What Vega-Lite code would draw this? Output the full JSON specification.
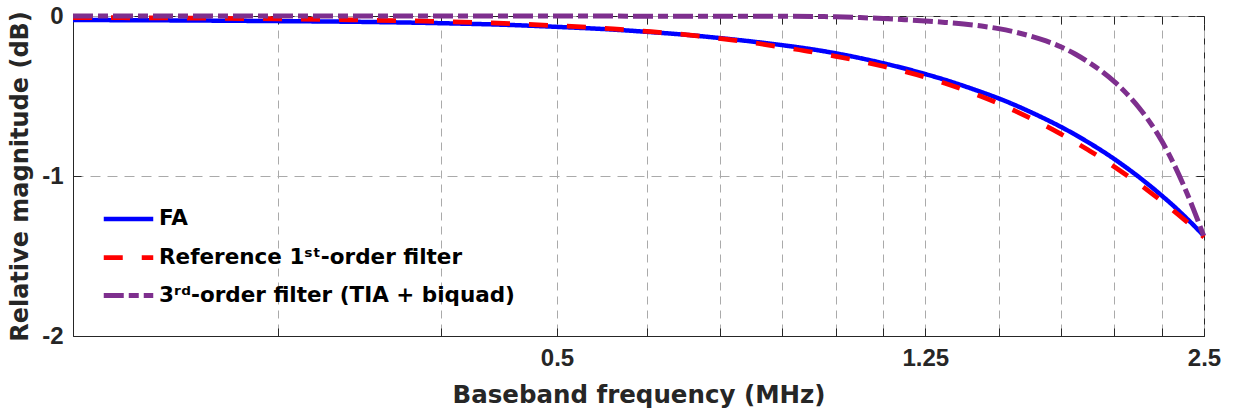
{
  "$schema": "https://vega.github.io/schema/vega-lite/v6.json",
  "width": 1131,
  "height": 320,
  "autosize": {"type": "none"},
  "padding": {"left": 73, "top": 16, "right": 32, "bottom": 77},
  "background": "white",
  "config": {
    "view": {"stroke": "#262626", "strokeWidth": 1},
    "axis": {"domainColor": "#262626", "tickColor": "#262626", "labelColor": "#262626", "titleColor": "#262626"}
  },
  "data": {
    "values": [
      {"f": 0.15, "db": -0.025, "filter": "FA"},
      {"f": 0.2, "db": -0.028, "filter": "FA"},
      {"f": 0.25, "db": -0.032, "filter": "FA"},
      {"f": 0.3, "db": -0.036, "filter": "FA"},
      {"f": 0.375, "db": -0.045, "filter": "FA"},
      {"f": 0.45, "db": -0.057, "filter": "FA"},
      {"f": 0.5, "db": -0.068, "filter": "FA"},
      {"f": 0.575, "db": -0.085, "filter": "FA"},
      {"f": 0.625, "db": -0.099, "filter": "FA"},
      {"f": 0.7, "db": -0.121, "filter": "FA"},
      {"f": 0.75, "db": -0.138, "filter": "FA"},
      {"f": 0.825, "db": -0.164, "filter": "FA"},
      {"f": 0.875, "db": -0.182, "filter": "FA"},
      {"f": 0.95, "db": -0.211, "filter": "FA"},
      {"f": 1.0, "db": -0.233, "filter": "FA"},
      {"f": 1.0625, "db": -0.263, "filter": "FA"},
      {"f": 1.125, "db": -0.295, "filter": "FA"},
      {"f": 1.1875, "db": -0.328, "filter": "FA"},
      {"f": 1.25, "db": -0.363, "filter": "FA"},
      {"f": 1.3125, "db": -0.399, "filter": "FA"},
      {"f": 1.375, "db": -0.437, "filter": "FA"},
      {"f": 1.4375, "db": -0.476, "filter": "FA"},
      {"f": 1.5, "db": -0.515, "filter": "FA"},
      {"f": 1.5625, "db": -0.557, "filter": "FA"},
      {"f": 1.625, "db": -0.601, "filter": "FA"},
      {"f": 1.6875, "db": -0.646, "filter": "FA"},
      {"f": 1.75, "db": -0.692, "filter": "FA"},
      {"f": 1.8125, "db": -0.740, "filter": "FA"},
      {"f": 1.875, "db": -0.790, "filter": "FA"},
      {"f": 1.9375, "db": -0.841, "filter": "FA"},
      {"f": 2.0, "db": -0.894, "filter": "FA"},
      {"f": 2.0625, "db": -0.949, "filter": "FA"},
      {"f": 2.125, "db": -1.005, "filter": "FA"},
      {"f": 2.1875, "db": -1.063, "filter": "FA"},
      {"f": 2.25, "db": -1.122, "filter": "FA"},
      {"f": 2.3125, "db": -1.182, "filter": "FA"},
      {"f": 2.375, "db": -1.245, "filter": "FA"},
      {"f": 2.4375, "db": -1.309, "filter": "FA"},
      {"f": 2.5, "db": -1.375, "filter": "FA"},
      {"f": 0.15, "db": -0.01, "filter": "Reference 1ˢᵗ-order filter"},
      {"f": 0.2, "db": -0.013, "filter": "Reference 1ˢᵗ-order filter"},
      {"f": 0.25, "db": -0.018, "filter": "Reference 1ˢᵗ-order filter"},
      {"f": 0.3, "db": -0.024, "filter": "Reference 1ˢᵗ-order filter"},
      {"f": 0.375, "db": -0.035, "filter": "Reference 1ˢᵗ-order filter"},
      {"f": 0.45, "db": -0.049, "filter": "Reference 1ˢᵗ-order filter"},
      {"f": 0.5, "db": -0.061, "filter": "Reference 1ˢᵗ-order filter"},
      {"f": 0.575, "db": -0.08, "filter": "Reference 1ˢᵗ-order filter"},
      {"f": 0.625, "db": -0.096, "filter": "Reference 1ˢᵗ-order filter"},
      {"f": 0.7, "db": -0.121, "filter": "Reference 1ˢᵗ-order filter"},
      {"f": 0.75, "db": -0.141, "filter": "Reference 1ˢᵗ-order filter"},
      {"f": 0.825, "db": -0.172, "filter": "Reference 1ˢᵗ-order filter"},
      {"f": 0.875, "db": -0.195, "filter": "Reference 1ˢᵗ-order filter"},
      {"f": 0.95, "db": -0.228, "filter": "Reference 1ˢᵗ-order filter"},
      {"f": 1.0, "db": -0.252, "filter": "Reference 1ˢᵗ-order filter"},
      {"f": 1.0625, "db": -0.282, "filter": "Reference 1ˢᵗ-order filter"},
      {"f": 1.125, "db": -0.314, "filter": "Reference 1ˢᵗ-order filter"},
      {"f": 1.1875, "db": -0.347, "filter": "Reference 1ˢᵗ-order filter"},
      {"f": 1.25, "db": -0.382, "filter": "Reference 1ˢᵗ-order filter"},
      {"f": 1.3125, "db": -0.420, "filter": "Reference 1ˢᵗ-order filter"},
      {"f": 1.375, "db": -0.461, "filter": "Reference 1ˢᵗ-order filter"},
      {"f": 1.4375, "db": -0.503, "filter": "Reference 1ˢᵗ-order filter"},
      {"f": 1.5, "db": -0.547, "filter": "Reference 1ˢᵗ-order filter"},
      {"f": 1.5625, "db": -0.593, "filter": "Reference 1ˢᵗ-order filter"},
      {"f": 1.625, "db": -0.640, "filter": "Reference 1ˢᵗ-order filter"},
      {"f": 1.6875, "db": -0.688, "filter": "Reference 1ˢᵗ-order filter"},
      {"f": 1.75, "db": -0.737, "filter": "Reference 1ˢᵗ-order filter"},
      {"f": 1.8125, "db": -0.787, "filter": "Reference 1ˢᵗ-order filter"},
      {"f": 1.875, "db": -0.838, "filter": "Reference 1ˢᵗ-order filter"},
      {"f": 1.9375, "db": -0.889, "filter": "Reference 1ˢᵗ-order filter"},
      {"f": 2.0, "db": -0.942, "filter": "Reference 1ˢᵗ-order filter"},
      {"f": 2.0625, "db": -0.995, "filter": "Reference 1ˢᵗ-order filter"},
      {"f": 2.125, "db": -1.048, "filter": "Reference 1ˢᵗ-order filter"},
      {"f": 2.1875, "db": -1.102, "filter": "Reference 1ˢᵗ-order filter"},
      {"f": 2.25, "db": -1.157, "filter": "Reference 1ˢᵗ-order filter"},
      {"f": 2.3125, "db": -1.212, "filter": "Reference 1ˢᵗ-order filter"},
      {"f": 2.375, "db": -1.268, "filter": "Reference 1ˢᵗ-order filter"},
      {"f": 2.4375, "db": -1.325, "filter": "Reference 1ˢᵗ-order filter"},
      {"f": 2.5, "db": -1.382, "filter": "Reference 1ˢᵗ-order filter"},
      {"f": 0.15, "db": 0.0, "filter": "3ʳᵈ-order filter (TIA + biquad)"},
      {"f": 0.25, "db": 0.0, "filter": "3ʳᵈ-order filter (TIA + biquad)"},
      {"f": 0.375, "db": 0.0, "filter": "3ʳᵈ-order filter (TIA + biquad)"},
      {"f": 0.5, "db": 0.0, "filter": "3ʳᵈ-order filter (TIA + biquad)"},
      {"f": 0.625, "db": -0.001, "filter": "3ʳᵈ-order filter (TIA + biquad)"},
      {"f": 0.75, "db": -0.001, "filter": "3ʳᵈ-order filter (TIA + biquad)"},
      {"f": 0.875, "db": -0.002, "filter": "3ʳᵈ-order filter (TIA + biquad)"},
      {"f": 0.95, "db": -0.003, "filter": "3ʳᵈ-order filter (TIA + biquad)"},
      {"f": 1.0, "db": -0.005, "filter": "3ʳᵈ-order filter (TIA + biquad)"},
      {"f": 1.0625, "db": -0.01, "filter": "3ʳᵈ-order filter (TIA + biquad)"},
      {"f": 1.125, "db": -0.016, "filter": "3ʳᵈ-order filter (TIA + biquad)"},
      {"f": 1.1875, "db": -0.023, "filter": "3ʳᵈ-order filter (TIA + biquad)"},
      {"f": 1.25, "db": -0.031, "filter": "3ʳᵈ-order filter (TIA + biquad)"},
      {"f": 1.3125, "db": -0.04, "filter": "3ʳᵈ-order filter (TIA + biquad)"},
      {"f": 1.375, "db": -0.05, "filter": "3ʳᵈ-order filter (TIA + biquad)"},
      {"f": 1.4375, "db": -0.063, "filter": "3ʳᵈ-order filter (TIA + biquad)"},
      {"f": 1.5, "db": -0.079, "filter": "3ʳᵈ-order filter (TIA + biquad)"},
      {"f": 1.5625, "db": -0.1, "filter": "3ʳᵈ-order filter (TIA + biquad)"},
      {"f": 1.625, "db": -0.126, "filter": "3ʳᵈ-order filter (TIA + biquad)"},
      {"f": 1.6875, "db": -0.156, "filter": "3ʳᵈ-order filter (TIA + biquad)"},
      {"f": 1.75, "db": -0.192, "filter": "3ʳᵈ-order filter (TIA + biquad)"},
      {"f": 1.8125, "db": -0.236, "filter": "3ʳᵈ-order filter (TIA + biquad)"},
      {"f": 1.875, "db": -0.288, "filter": "3ʳᵈ-order filter (TIA + biquad)"},
      {"f": 1.9375, "db": -0.345, "filter": "3ʳᵈ-order filter (TIA + biquad)"},
      {"f": 2.0, "db": -0.41, "filter": "3ʳᵈ-order filter (TIA + biquad)"},
      {"f": 2.0625, "db": -0.485, "filter": "3ʳᵈ-order filter (TIA + biquad)"},
      {"f": 2.125, "db": -0.57, "filter": "3ʳᵈ-order filter (TIA + biquad)"},
      {"f": 2.1875, "db": -0.668, "filter": "3ʳᵈ-order filter (TIA + biquad)"},
      {"f": 2.25, "db": -0.78, "filter": "3ʳᵈ-order filter (TIA + biquad)"},
      {"f": 2.3125, "db": -0.91, "filter": "3ʳᵈ-order filter (TIA + biquad)"},
      {"f": 2.375, "db": -1.055, "filter": "3ʳᵈ-order filter (TIA + biquad)"},
      {"f": 2.4375, "db": -1.213, "filter": "3ʳᵈ-order filter (TIA + biquad)"},
      {"f": 2.5, "db": -1.38, "filter": "3ʳᵈ-order filter (TIA + biquad)"}
    ]
  },
  "resolve": {"axis": {"x": "independent", "y": "independent"}},
  "layer": [
    {
      "mark": {"type": "line", "interpolate": "monotone", "clip": false},
      "encoding": {
        "x": {
          "field": "f", "type": "quantitative",
          "scale": {"type": "log", "domain": [0.15, 2.5], "nice": false},
          "axis": {
            "orient": "bottom",
            "values": [0.25, 0.375, 0.5, 0.625, 0.75, 0.875, 1, 1.125, 1.25, 1.5, 1.75, 2, 2.25, 2.5],
            "grid": true, "gridDash": [8, 6], "gridColor": "#aaaaaa", "gridWidth": 1,
            "ticks": true, "tickSize": -8,
            "labelExpr": "datum.value == 0.5 ? '0.5' : datum.value == 1.25 ? '1.25' : datum.value == 2.5 ? '2.5' : ''",
            "labelOverlap": false, "labelFlush": false,
            "labelFont": "Liberation Sans", "labelFontWeight": "bold", "labelFontSize": 24, "labelPadding": 18,
            "title": "Baseband frequency (MHz)",
            "titleFont": "DejaVu Sans", "titleFontWeight": "bold", "titleFontSize": 24.5, "titlePadding": 13
          }
        },
        "y": {
          "field": "db", "type": "quantitative",
          "scale": {"domain": [-2, 0], "nice": false, "zero": false},
          "axis": {
            "orient": "left",
            "values": [-2, -1, 0],
            "grid": true, "gridDash": [10, 7], "gridColor": "#aaaaaa", "gridWidth": 1,
            "ticks": true, "tickSize": -8,
            "labelExpr": "datum.value == 0 ? '0' : datum.value == -1 ? '-1' : '-2'",
            "labelFont": "Liberation Sans", "labelFontWeight": "bold", "labelFontSize": 24, "labelPadding": 18,
            "title": "Relative magnitude (dB)",
            "titleFont": "DejaVu Sans", "titleFontWeight": "bold", "titleFontSize": 24,
            "titleX": -53, "titleY": 160, "titleBaseline": "middle"
          }
        },
        "color": {
          "field": "filter", "type": "nominal",
          "scale": {
            "domain": ["FA", "Reference 1ˢᵗ-order filter", "3ʳᵈ-order filter (TIA + biquad)"],
            "range": ["#0000ff", "#ff0000", "#7e2f8e"]
          },
          "legend": {
            "orient": "none", "legendX": 28, "legendY": 176,
            "title": null, "symbolType": "stroke", "symbolSize": 2450, "symbolStrokeWidth": 4.5,
            "labelFont": "DejaVu Sans", "labelFontWeight": "bold", "labelFontSize": 21.5, "labelColor": "#000000",
            "labelLimit": 0, "rowPadding": -3, "padding": 0, "labelOffset": 3
          }
        },
        "strokeDash": {
          "field": "filter", "type": "nominal",
          "scale": {
            "domain": ["FA", "Reference 1ˢᵗ-order filter", "3ʳᵈ-order filter (TIA + biquad)"],
            "range": [[1, 0], [19, 19], [20, 5, 10, 5]]
          },
          "legend": null
        },
        "strokeWidth": {
          "field": "filter", "type": "nominal",
          "scale": {
            "domain": ["FA", "Reference 1ˢᵗ-order filter", "3ʳᵈ-order filter (TIA + biquad)"],
            "range": [4.5, 5, 5]
          },
          "legend": null
        }
      }
    },
    {
      "mark": {"type": "point", "opacity": 0},
      "encoding": {
        "x": {
          "field": "f", "type": "quantitative",
          "scale": {"type": "log", "domain": [0.15, 2.5], "nice": false},
          "axis": {
            "orient": "top", "values": [0.25, 0.375, 0.5, 0.625, 0.75, 0.875, 1, 1.125, 1.25, 1.5, 1.75, 2, 2.25, 2.5],
            "labels": false, "grid": false, "domain": false, "ticks": true, "tickSize": -8, "title": null
          }
        },
        "y": {
          "field": "db", "type": "quantitative",
          "scale": {"domain": [-2, 0], "nice": false, "zero": false},
          "axis": {
            "orient": "right", "values": [-2, -1, 0],
            "labels": false, "grid": false, "domain": false, "ticks": true, "tickSize": -8, "title": null
          }
        }
      }
    }
  ]
}
